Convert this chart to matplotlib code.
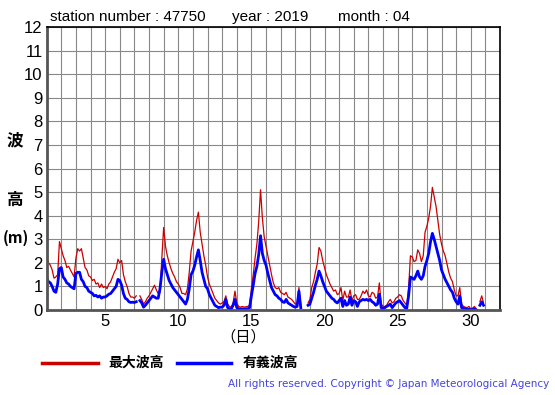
import numpy as np
import matplotlib
matplotlib.use("Agg")
import matplotlib.pyplot as plt

nan = np.nan

# 3-hourly readings, 8 per day, starting 1 April 00:00
max_wave = [
    2.2, 2.0, 1.9, 1.7, 1.35, 1.4, 1.5, 2.9,
    2.6, 2.3, 2.1, 1.8, 1.85, 1.7, 1.55, 1.4,
    2.2, 2.6, 2.5, 2.6, 2.2, 1.8, 1.7, 1.45,
    1.4, 1.25, 1.3, 1.1, 1.15, 0.95, 1.1, 0.95,
    1.0, 0.9, 1.1, 1.2, 1.4, 1.6, 1.75, 2.15,
    2.0, 2.1, 1.5, 1.2, 1.0, 0.7, 0.55, 0.55,
    0.5, 0.6, nan, 0.6, 0.45, 0.25, 0.35, 0.5,
    0.6, 0.75, 0.9, 1.05, 0.85, 0.7, 0.75, 2.2,
    3.5, 2.7, 2.3, 2.0, 1.75, 1.55, 1.4, 1.2,
    1.1, 0.95, 0.7, 0.7, 0.65, 0.9, 1.6, 2.5,
    2.9, 3.3, 3.8, 4.15, 3.3, 2.8, 2.3, 1.9,
    1.4, 1.1, 0.9, 0.7, 0.5, 0.4, 0.3, 0.25,
    0.3, 0.35, 0.6, 0.25, 0.15, 0.12, 0.3, 0.8,
    0.3, 0.15, 0.12, 0.15, 0.12, 0.14, 0.15, 0.2,
    0.9, 1.5, 2.2, 2.8, 3.75, 5.1, 3.9, 3.1,
    2.7, 2.3, 1.9, 1.5, 1.15, 0.95, 0.9, 0.95,
    0.75, 0.7, 0.65, 0.75, 0.55, 0.5, 0.45, 0.35,
    0.25, 0.3, 0.95, 0.2, nan, nan, nan, 0.3,
    0.45, 0.95, 1.2, 1.6, 1.95, 2.65, 2.5, 2.1,
    1.8, 1.5, 1.3, 1.1, 0.95, 0.8, 0.85, 0.65,
    0.7, 0.95, 0.4, 0.8, 0.55, 0.55, 0.85, 0.4,
    0.6, 0.65, 0.45, 0.45, 0.6, 0.8, 0.7, 0.85,
    0.6, 0.55, 0.75, 0.7, 0.5, 0.55, 1.15, 0.25,
    0.15, 0.15, 0.2, 0.35, 0.45, 0.3, 0.35, 0.5,
    0.55, 0.65, 0.6, 0.4, 0.3, 0.2, 0.9, 2.3,
    2.25, 2.05, 2.1, 2.55, 2.4, 2.05, 2.3, 3.3,
    3.55, 3.9, 4.4, 5.2, 4.8, 4.4, 3.8, 3.2,
    2.8, 2.5, 2.3, 1.95, 1.6, 1.35, 1.2, 0.85,
    0.6, 0.6, 0.95, 0.25, 0.15, 0.12, 0.1, 0.15,
    0.05, 0.08, 0.15, 0.05, nan, 0.35, 0.6, 0.3,
]

sig_wave = [
    1.35, 1.2, 1.15, 1.0, 0.8, 0.75, 1.1, 1.75,
    1.8, 1.4, 1.3, 1.15, 1.1, 1.0, 0.95, 0.9,
    1.55, 1.6, 1.6, 1.3, 1.2, 1.0, 0.95, 0.8,
    0.75, 0.7, 0.6, 0.62, 0.55, 0.6, 0.5, 0.55,
    0.55, 0.6, 0.67, 0.7, 0.8, 0.9, 1.0, 1.3,
    1.25, 1.05, 0.7, 0.5, 0.45, 0.35, 0.32, 0.33,
    0.32, 0.35, nan, 0.4, 0.3, 0.12, 0.2, 0.3,
    0.4, 0.5, 0.6, 0.55, 0.5, 0.5, 0.9, 1.6,
    2.15, 1.75, 1.5, 1.25, 1.1, 0.95, 0.85, 0.75,
    0.65, 0.55, 0.45, 0.35, 0.25, 0.45, 0.9, 1.5,
    1.65, 1.9, 2.25, 2.55, 2.1, 1.6, 1.3, 1.0,
    0.9, 0.65, 0.5, 0.35, 0.2, 0.15, 0.1, 0.12,
    0.12, 0.2, 0.45, 0.1, 0.05, 0.05, 0.2, 0.45,
    0.1, 0.05, 0.04, 0.05, 0.04, 0.05, 0.05, 0.1,
    0.6, 1.05, 1.55, 1.85, 2.35, 3.15, 2.4, 2.1,
    1.9, 1.55, 1.25, 0.95, 0.8, 0.65, 0.6, 0.5,
    0.45, 0.35, 0.32, 0.45, 0.3, 0.25, 0.2, 0.15,
    0.12, 0.15, 0.8, 0.1, nan, nan, nan, 0.2,
    0.25, 0.5, 0.75, 1.05, 1.3, 1.65, 1.45, 1.2,
    1.0, 0.8, 0.7, 0.6, 0.5, 0.45, 0.35, 0.3,
    0.4, 0.5, 0.15, 0.4, 0.2, 0.25, 0.55, 0.2,
    0.4, 0.35, 0.15, 0.35, 0.4, 0.45, 0.42, 0.45,
    0.4, 0.45, 0.35, 0.3, 0.2, 0.25, 0.67, 0.1,
    0.05, 0.1, 0.15, 0.2, 0.25, 0.1, 0.2, 0.3,
    0.35, 0.4, 0.3, 0.2, 0.1, 0.08, 0.6, 1.4,
    1.35, 1.3, 1.45, 1.65, 1.4, 1.3, 1.45, 1.85,
    2.1, 2.4, 2.9, 3.25, 3.0, 2.7, 2.4, 2.1,
    1.7, 1.5, 1.3, 1.15, 1.0, 0.85, 0.75, 0.5,
    0.35, 0.25, 0.6, 0.1, 0.08, 0.05, 0.02, 0.03,
    0.0, 0.02, 0.05, 0.0, nan, 0.2, 0.35, 0.2,
]

day = 1 + np.arange(len(max_wave)) / 8.0
xticks = [5, 10, 15, 20, 25, 30]
yticks = list(range(0, 13))

jp = ['Noto Sans CJK JP', 'DejaVu Sans']
lat = 'Liberation Sans'

fig = plt.figure(figsize=(5.55, 3.95), dpi=100)
ax = fig.add_axes([0.0841, 0.2152, 0.8168, 0.7164])

ax.plot(day, max_wave, color='#cc0000', lw=0.9)
ax.plot(day, sig_wave, color='#0000ff', lw=2.0)

ax.set_xlim(1, 32)
ax.set_ylim(0, 12)
ax.set_xticks(range(1, 33))
ax.set_xticklabels([str(d) if d in xticks else '' for d in range(1, 33)],
                   fontfamily=lat, fontsize=12)
ax.set_yticks(yticks)
ax.set_yticklabels([str(v) for v in yticks], fontfamily=lat, fontsize=12)
ax.tick_params(length=0, pad=3)
ax.grid(True, color='#888888', lw=0.8)
ax.set_axisbelow(True)
for s in ['top', 'right']:
    ax.spines[s].set_color('black')
    ax.spines[s].set_linewidth(1.2)
for s in ['left', 'bottom']:
    ax.spines[s].set_color('#555555')
    ax.spines[s].set_linewidth(2.0)

ty = 1 - 17 / 395
fig.text(50 / 555, ty, 'station number : 47750', fontfamily=lat,
         fontsize=11, va='center')
fig.text(232 / 555, ty, 'year : 2019', fontfamily=lat,
         fontsize=11, va='center')
fig.text(338 / 555, ty, 'month : 04', fontfamily=lat,
         fontsize=11, va='center')

fig.text(15 / 555, 1 - 140 / 395, '波', fontfamily=jp, fontsize=12,
         fontweight='bold', ha='center', va='center')
fig.text(15 / 555, 1 - 200 / 395, '高', fontfamily=jp, fontsize=12,
         fontweight='bold', ha='center', va='center')
fig.text(3 / 555, 1 - 238 / 395, '(m)', fontfamily=jp, fontsize=11,
         fontweight='bold', ha='left', va='center')
fig.text(243 / 555, 1 - 337 / 395, '（日）', fontfamily=jp, fontsize=11,
         ha='center', va='center')

# legend
fig.add_artist(plt.Line2D([42 / 555, 98 / 555], [1 - 363 / 395] * 2,
                          color='#cc0000', lw=2.5))
fig.text(108 / 555, 1 - 363 / 395, '最大波高', fontfamily=jp, fontsize=10,
         fontweight='bold', va='center')
fig.add_artist(plt.Line2D([177 / 555, 231 / 555], [1 - 363 / 395] * 2,
                          color='#0000ff', lw=2.5))
fig.text(243 / 555, 1 - 363 / 395, '有義波高', fontfamily=jp, fontsize=10,
         fontweight='bold', va='center')

fig.text(549 / 555, 1 - 384 / 395,
         'All rights reserved. Copyright © Japan Meteorological Agency',
         fontfamily='DejaVu Sans', fontsize=7.5, color='#4444dd',
         ha='right', va='center')

fig.savefig('out.png', dpi=100)
